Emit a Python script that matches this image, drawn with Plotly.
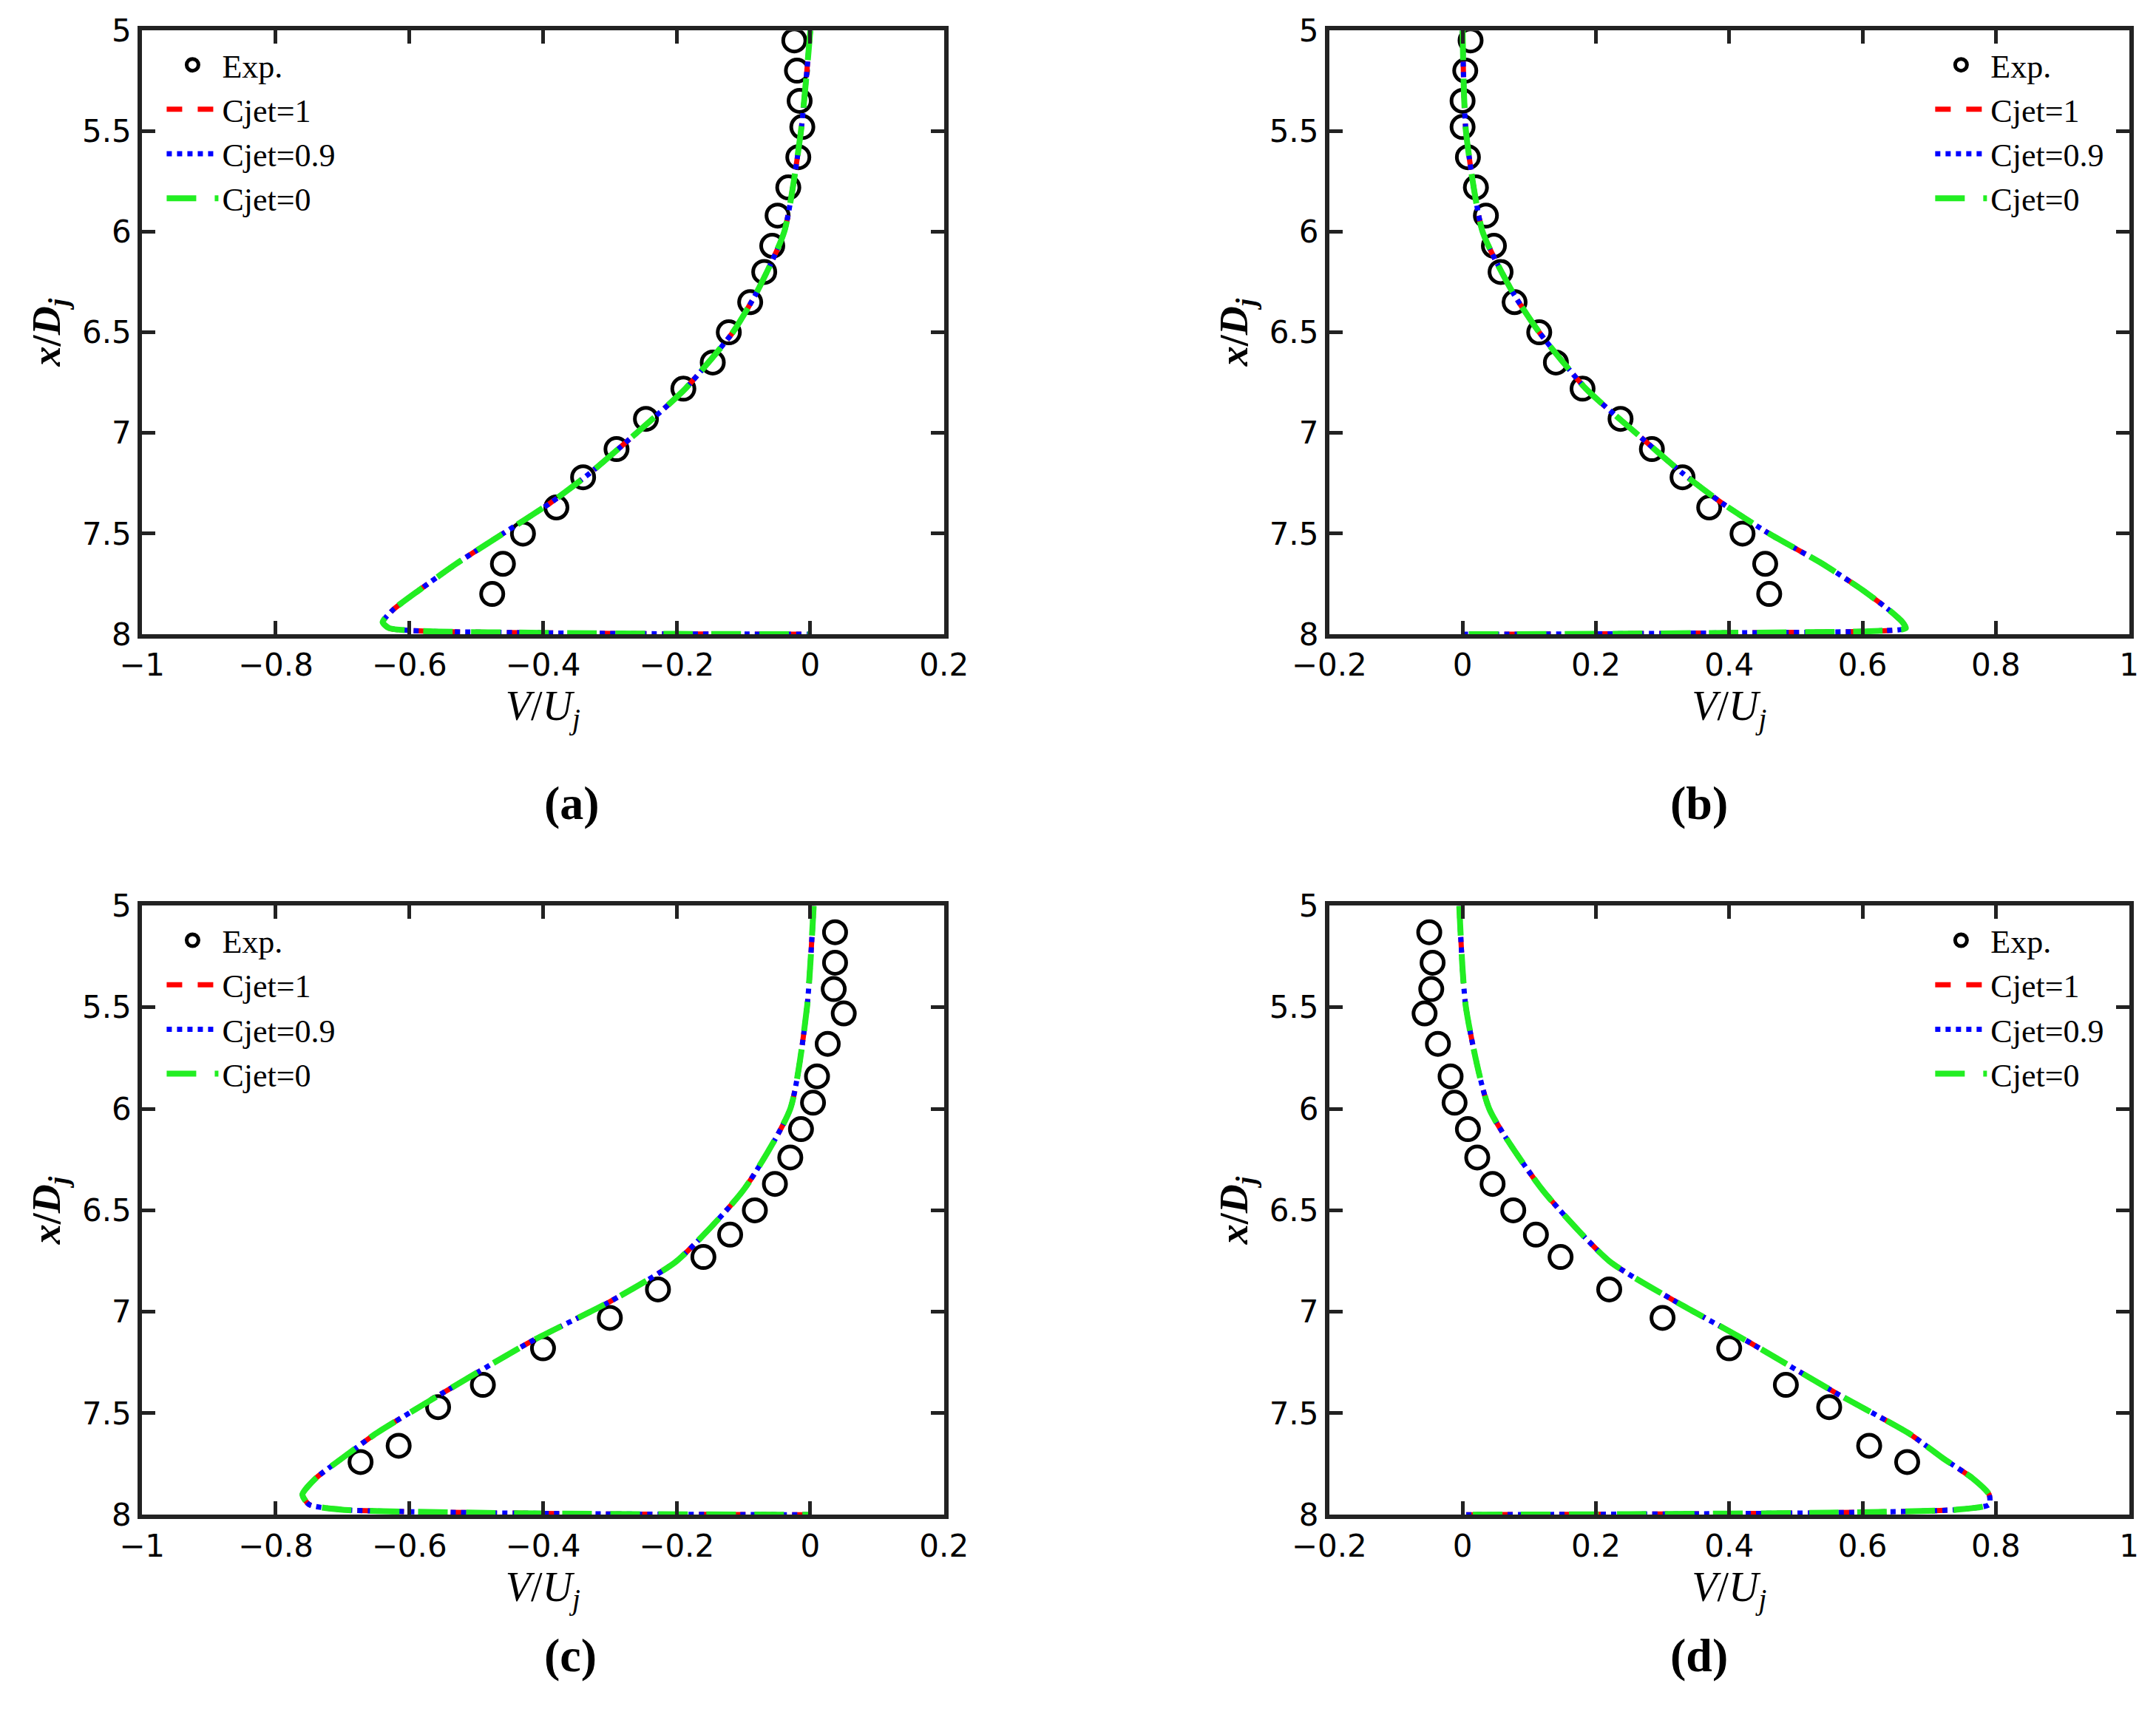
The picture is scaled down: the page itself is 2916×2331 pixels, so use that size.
import plotly.graph_objects as go

# experimental points (x/Dj, V/Uj)
exp_x_ab = [5.05, 5.2, 5.35, 5.48, 5.63, 5.78, 5.92, 6.07, 6.2, 6.35, 6.5, 6.65, 6.78, 6.93, 7.08, 7.22, 7.37, 7.5, 7.65, 7.8]
exp_v_a = [-0.024, -0.02, -0.016, -0.012, -0.018, -0.033, -0.049, -0.057, -0.069, -0.09, -0.122, -0.146, -0.19, -0.246, -0.29, -0.34, -0.38, -0.43, -0.46, -0.476]
exp_v_b = [0.012, 0.004, 0.0, 0.0, 0.008, 0.02, 0.035, 0.047, 0.057, 0.078, 0.115, 0.14, 0.18, 0.237, 0.284, 0.33, 0.37, 0.42, 0.454, 0.46]

exp_x_cd = [5.13, 5.28, 5.41, 5.53, 5.68, 5.84, 5.97, 6.1, 6.24, 6.37, 6.5, 6.62, 6.73, 6.89, 7.03, 7.18, 7.36, 7.47, 7.66, 7.74]
exp_v_c = [0.037, 0.037, 0.035, 0.05, 0.026, 0.01, 0.004, -0.014, -0.03, -0.053, -0.083, -0.12, -0.16, -0.228, -0.3, -0.4, -0.49, -0.557, -0.616, -0.673]
exp_v_d = [-0.05, -0.045, -0.047, -0.057, -0.037, -0.018, -0.012, 0.008, 0.022, 0.045, 0.076, 0.11, 0.147, 0.22, 0.3, 0.4, 0.485, 0.55, 0.61, 0.667]

# simulation profiles
sim_x_ab = [5.0, 5.5, 6.0, 6.3, 6.5, 6.78, 7.0, 7.2, 7.35, 7.5, 7.65, 7.78, 7.88, 7.94, 7.97, 7.985, 7.993, 7.998, 8.0]
sim_v_a = [0.0, -0.014, -0.039, -0.08, -0.116, -0.187, -0.26, -0.33, -0.39, -0.46, -0.53, -0.585, -0.625, -0.64, -0.63, -0.57, -0.4, -0.2, 0.0]
sim_v_b = [0.0, 0.005, 0.03, 0.075, 0.115, 0.185, 0.26, 0.33, 0.39, 0.46, 0.54, 0.6, 0.64, 0.66, 0.665, 0.61, 0.4, 0.2, 0.0]

sim_x_cd = [5.0, 5.5, 6.0, 6.4, 6.75, 6.95, 7.15, 7.4, 7.6, 7.72, 7.82, 7.9, 7.95, 7.975, 7.99, 7.997, 8.0]
sim_v_c = [0.005, -0.005, -0.03, -0.1, -0.2, -0.3, -0.42, -0.55, -0.65, -0.7, -0.74, -0.76, -0.75, -0.7, -0.5, -0.25, 0.0]
sim_v_d = [-0.005, 0.005, 0.04, 0.12, 0.22, 0.32, 0.43, 0.56, 0.67, 0.72, 0.765, 0.79, 0.79, 0.74, 0.55, 0.25, 0.0]

panel_labels = ["(a)", "(b)", "(c)", "(d)"]

FONT = "Liberation Serif"
W, H = 2916, 2331

panels = [
    (exp_x_ab, exp_v_a, sim_x_ab, sim_v_a, [-1, 0.2], [-1, -0.8, -0.6, -0.4, -0.2, 0, 0.2], "left"),
    (exp_x_ab, exp_v_b, sim_x_ab, sim_v_b, [-0.2, 1], [-0.2, 0, 0.2, 0.4, 0.6, 0.8, 1], "right"),
    (exp_x_cd, exp_v_c, sim_x_cd, sim_v_c, [-1, 0.2], [-1, -0.8, -0.6, -0.4, -0.2, 0, 0.2], "left"),
    (exp_x_cd, exp_v_d, sim_x_cd, sim_v_d, [-0.2, 1], [-0.2, 0, 0.2, 0.4, 0.6, 0.8, 1], "right"),
]

xdoms = [[0.047, 0.430], [0.614, 0.996]]
ydoms = [[0.638, 0.996], [0.116, 0.477]]

fig = go.Figure()
layout = dict(width=W, height=H, margin=dict(l=0, r=0, t=0, b=0),
              plot_bgcolor="white", paper_bgcolor="white",
              font=dict(family=FONT, size=44, color="black"))
annotations = []

for i, (ex, ev, sx, sv, xr, xt, lpos) in enumerate(panels):
    n = "" if i == 0 else str(i + 1)
    xa, ya = "x" + n, "y" + n
    leg = "legend" + n
    xd = xdoms[i % 2]
    yd = ydoms[i // 2]
    fig.add_trace(go.Scatter(x=ev, y=ex, mode="markers", name="Exp.", xaxis=xa, yaxis=ya, legend=leg,
                             marker=dict(symbol="circle-open", size=30, color="black", line=dict(width=5))))
    fig.add_trace(go.Scatter(x=sv, y=sx, mode="lines", name="Cjet=1", xaxis=xa, yaxis=ya, legend=leg,
                             line=dict(color="red", width=7, dash="dash", shape="spline", smoothing=0.6)))
    fig.add_trace(go.Scatter(x=sv, y=sx, mode="lines", name="Cjet=0.9", xaxis=xa, yaxis=ya, legend=leg,
                             line=dict(color="blue", width=7, dash="dot", shape="spline", smoothing=0.6)))
    fig.add_trace(go.Scatter(x=sv, y=sx, mode="lines", name="Cjet=0", xaxis=xa, yaxis=ya, legend=leg,
                             line=dict(color="#22ee22", width=8, dash="40px,25px", shape="spline", smoothing=0.6)))
    axstyle = dict(showline=True, linewidth=6, linecolor="#222222", mirror="allticks",
                   ticks="inside", ticklen=18, tickwidth=5, tickcolor="#222222",
                   showgrid=False, zeroline=False, tickfont=dict(size=42, family="DejaVu Sans"))
    layout["xaxis" + n] = dict(domain=xd, anchor=ya, range=xr, tickvals=xt,
                               title=dict(text="<i>V</i>/<i>U<sub>j</sub></i>", font=dict(size=56), standoff=4),
                               **axstyle)
    layout["yaxis" + n] = dict(domain=yd, anchor=xa, range=[8, 5], tickvals=[5, 5.5, 6, 6.5, 7, 7.5, 8],
                               title=dict(text="<b><i>x</i>/<i>D<sub>j</sub></i></b>", font=dict(size=54), standoff=14),
                               **axstyle)
    if lpos == "left":
        lx, xanchor = xd[0] + 0.01, "left"
    else:
        lx, xanchor = xd[1] - 0.01, "right"
    layout[leg] = dict(x=lx, y=yd[1] - 0.005, xanchor=xanchor, yanchor="top", bgcolor="rgba(0,0,0,0)",
                       font=dict(size=44, family=FONT), itemwidth=70, itemsizing="trace", tracegroupgap=0)
    annotations.append(dict(text="<b>" + panel_labels[i] + "</b>", xref="paper", yref="paper",
                            x=(xd[0] + xd[1]) / 2, y=yd[0] - 0.1, showarrow=False,
                            font=dict(size=64, family=FONT)))

layout["annotations"] = annotations
fig.update_layout(**layout)
fig.write_html("out.html")
